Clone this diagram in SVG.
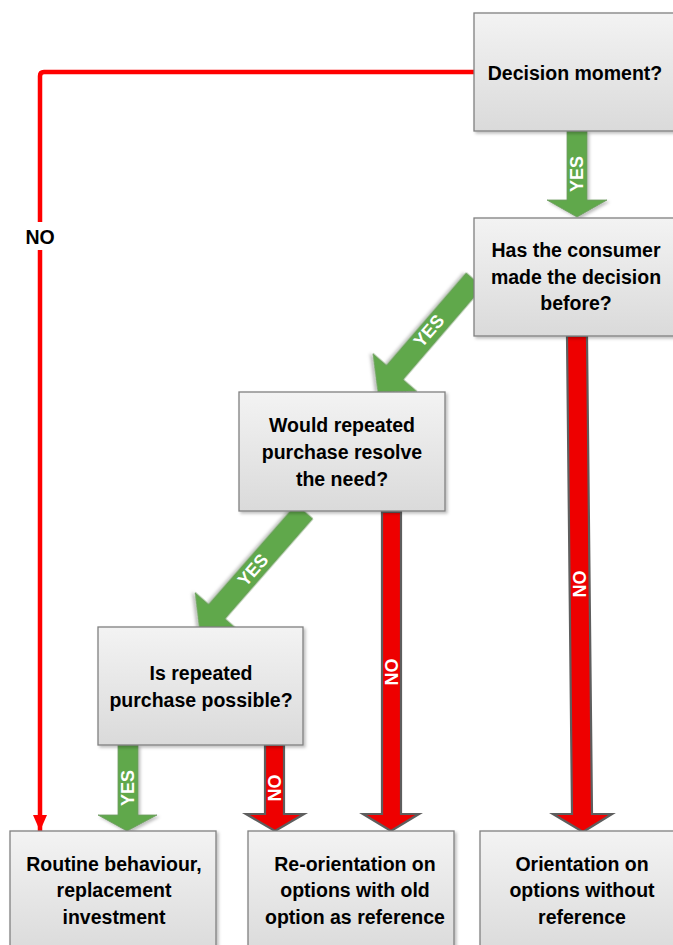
<svg xmlns="http://www.w3.org/2000/svg" width="673" height="945" viewBox="0 0 673 945">
  <defs>
    <linearGradient id="boxFill" x1="0" y1="0" x2="0" y2="1">
      <stop offset="0" stop-color="#f3f3f3"/>
      <stop offset="1" stop-color="#dadada"/>
    </linearGradient>
    <filter id="shadow" x="-10%" y="-10%" width="130%" height="130%">
      <feDropShadow dx="2" dy="2" stdDeviation="1.5" flood-color="#000" flood-opacity="0.25"/>
    </filter>
    <marker id="redHead" viewBox="0 0 16 14" refX="16" refY="7" markerWidth="16" markerHeight="14" markerUnits="userSpaceOnUse" orient="auto">
      <path d="M0,0 L16,7 L0,14 Z" fill="#ff0000"/>
    </marker>
  </defs>
  <style>
    .box { fill: url(#boxFill); stroke: #808080; stroke-width: 1.3; filter: url(#shadow); }
    .txt { font-family: "Liberation Sans", Arial, sans-serif; font-weight: bold; font-size: 19.5px; fill: #000; text-anchor: middle; }
    .lbl { font-family: "Liberation Sans", Arial, sans-serif; font-weight: bold; font-size: 18px; fill: #fff; text-anchor: middle; dominant-baseline: central; }
    .yes { fill: #61a84c; stroke: #6f9a62; stroke-width: 0.8; filter: url(#shadow); }
    .no { fill: #ee0000; stroke: #5e5e5e; stroke-width: 2.2; stroke-linejoin: miter; }
    .line { fill: none; stroke: #ff0000; stroke-width: 4.5; }
  </style>

  <!-- connectors -->
  <g id="connectors">
    <!-- NO from the first decision: long red line down the left side -->
    <path class="line" d="M474,72 H44 Q40,72 40,76 V831" marker-end="url(#redHead)"/>
    <rect x="20" y="222" width="40" height="28" fill="#fff"/>
    <text x="40" y="237" class="txt" font-size="20" dominant-baseline="central">NO</text>

    <!-- YES: Decision moment -> Has the consumer... -->
    <polygon class="yes" points="567,131 587,131 587,200 607,200 577,217 547,200 567,200"/>
    <text class="lbl" transform="translate(577,174) rotate(-90)">YES</text>

    <!-- YES: Has the consumer... -> Would repeated purchase... -->
    <polygon class="yes" transform="translate(474.5,280) rotate(130.75)" points="0,-11 122,-11 122,-29 148,0 122,29 122,11 0,11"/>
    <text class="lbl" transform="translate(429,331) rotate(-49.25)">YES</text>

    <!-- YES: Would repeated purchase... -> Is repeated purchase possible? -->
    <polygon class="yes" transform="translate(304.5,511.5) rotate(131.2)" points="0,-11 133,-11 133,-29 159,0 133,29 133,11 0,11"/>
    <text class="lbl" transform="translate(253,570) rotate(-48.8)">YES</text>

    <!-- YES: Is repeated purchase possible? -> Routine behaviour -->
    <polygon class="yes" points="118,745 138,745 138,815 157,815 127,831 98,815 118,815"/>
    <text class="lbl" transform="translate(128,788) rotate(-90)">YES</text>

    <!-- NO: Is repeated purchase possible? -> Re-orientation -->
    <polygon class="no" points="265,745 284,745 284,814 304,814 275,831 246,814 265,814"/>
    <text class="lbl" transform="translate(275,788) rotate(-90)">NO</text>

    <!-- NO: Would repeated purchase... -> Re-orientation -->
    <polygon class="no" points="382,512 401,512 401,814 419,814 391,831 363,814 382,814"/>
    <text class="lbl" transform="translate(392,672) rotate(-90)">NO</text>

    <!-- NO: Has the consumer... -> Orientation without reference -->
    <polygon class="no" points="567,336 587,336 592,814 612,814 583,832 553,814 572,814"/>
    <text class="lbl" transform="translate(580,584) rotate(-90)">NO</text>
  </g>

  <!-- decision nodes -->
  <g id="decision-moment">
    <rect class="box" x="474" y="13" width="205" height="118"/>
    <text class="txt" x="575" y="80">Decision moment?</text>
  </g>

  <g id="decided-before">
    <rect class="box" x="474" y="218" width="205" height="118"/>
    <text class="txt" x="576" y="257">Has the consumer</text>
    <text class="txt" x="576" y="284">made the decision</text>
    <text class="txt" x="576" y="310">before?</text>
  </g>

  <g id="repeat-resolves">
    <rect class="box" x="239" y="392" width="206" height="119"/>
    <text class="txt" x="342" y="432">Would repeated</text>
    <text class="txt" x="342" y="459">purchase resolve</text>
    <text class="txt" x="342" y="486">the need?</text>
  </g>

  <g id="repeat-possible">
    <rect class="box" x="98" y="627" width="205" height="118"/>
    <text class="txt" x="201" y="680">Is repeated</text>
    <text class="txt" x="201" y="707">purchase possible?</text>
  </g>

  <!-- outcome nodes -->
  <g id="routine">
    <rect class="box" x="10" y="831" width="206" height="125"/>
    <text class="txt" x="114" y="871">Routine behaviour,</text>
    <text class="txt" x="114" y="897">replacement</text>
    <text class="txt" x="114" y="924">investment</text>
  </g>

  <g id="reorientation">
    <rect class="box" x="248" y="831" width="206" height="125"/>
    <text class="txt" x="355" y="871">Re-orientation on</text>
    <text class="txt" x="355" y="897">options with old</text>
    <text class="txt" x="355" y="924">option as reference</text>
  </g>

  <g id="orientation">
    <rect class="box" x="480" y="831" width="205" height="125"/>
    <text class="txt" x="582" y="871">Orientation on</text>
    <text class="txt" x="582" y="897">options without</text>
    <text class="txt" x="582" y="924">reference</text>
  </g>
</svg>
